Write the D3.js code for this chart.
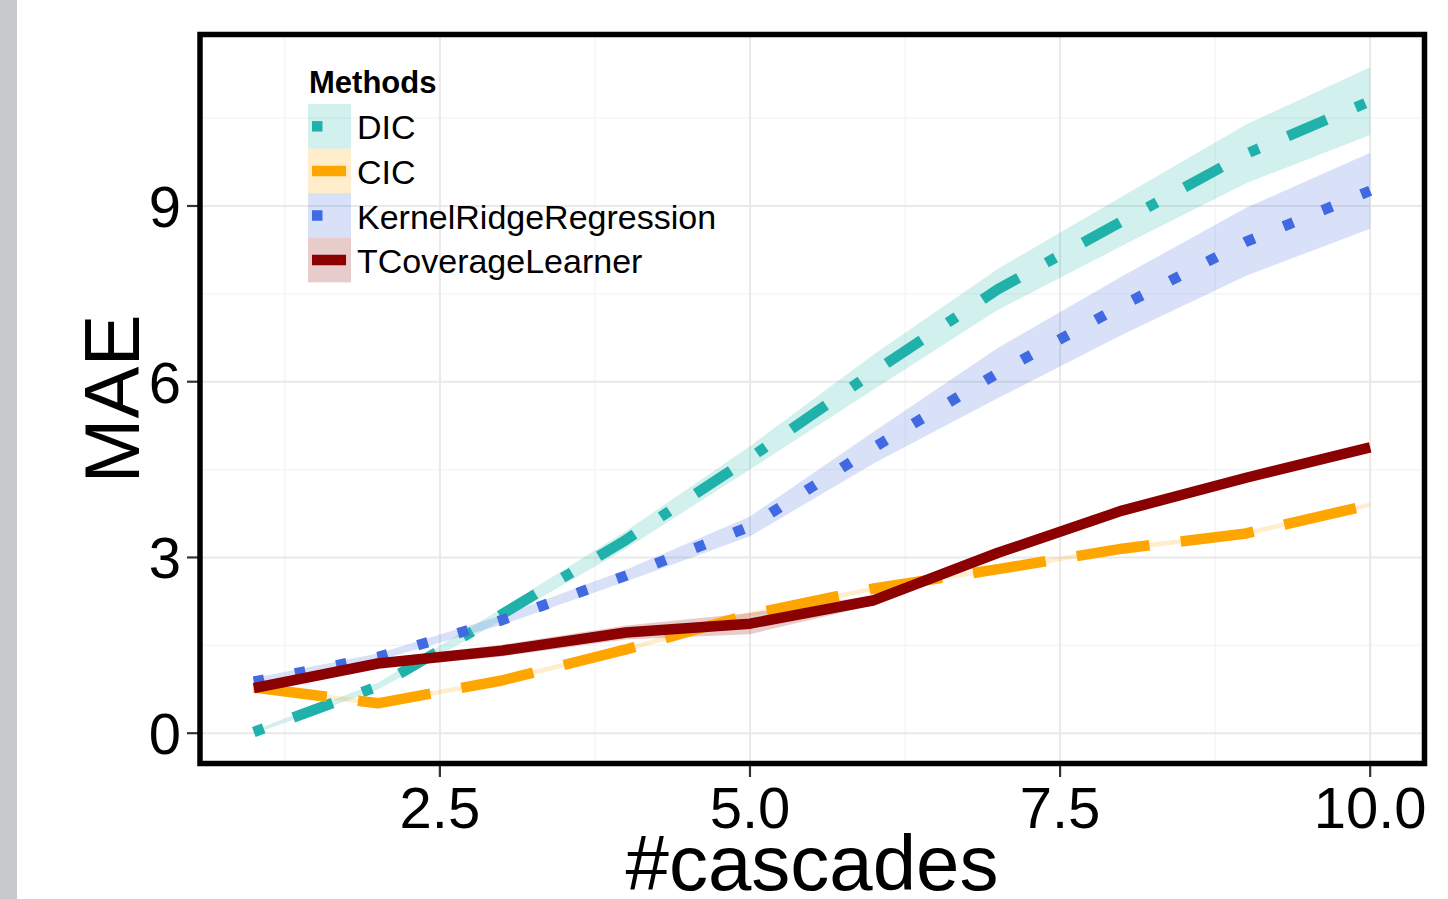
<!DOCTYPE html>
<html>
<head>
<meta charset="utf-8">
<script src="https://cdn.jsdelivr.net/npm/d3@7"></script>
<style>
  html, body { margin: 0; padding: 0; background: #fff; }
  svg { display: block; font-family: "Liberation Sans", Arial, Helvetica, sans-serif; }
</style>
</head>
<body>
<svg id="chart" width="1448" height="899"></svg>
<script>
// ---- data ----
const cascades = [1, 2, 3, 4, 5, 6, 7, 8, 9, 10];
const methods = ["DIC", "CIC", "KernelRidgeRegression", "TCoverageLearner"];
const dicMean = [0.02, 0.8, 2.03, 3.3, 4.7, 6.17, 7.58, 8.74, 9.89, 10.79];
const dicSd   = [0.03, 0.06, 0.1, 0.15, 0.2, 0.3, 0.35, 0.42, 0.5, 0.58];
const cicMean = [0.78, 0.51, 0.9, 1.43, 2.03, 2.47, 2.8, 3.15, 3.41, 3.9];
const cicSd   = [0.04, 0.04, 0.04, 0.04, 0.04, 0.04, 0.04, 0.04, 0.04, 0.04];
const krrMean = [0.88, 1.3, 1.93, 2.69, 3.53, 4.88, 6.15, 7.3, 8.39, 9.26];
const krrSd   = [0.06, 0.06, 0.08, 0.1, 0.17, 0.27, 0.43, 0.5, 0.58, 0.65];
const tclMean = [0.77, 1.19, 1.41, 1.72, 1.87, 2.27, 3.08, 3.8, 4.36, 4.88];
const tclSd   = [0.08, 0.08, 0.1, 0.12, 0.18, 0.08, 0.04, 0.04, 0.04, 0.04];
const xTicks = [2.5, 5.0, 7.5, 10.0];
const xMinor = [1.25, 3.75, 6.25, 8.75];
const yTicks = [0, 3, 6, 9];
const yMinor = [1.5, 4.5, 7.5, 10.5];
const lineColors = ["#20B2AA", "#FFA500", "#4169E1", "#8B0000"];

const lw = 10.5;
const dashes = [
  [1, 3, 4, 3].map(d => d * lw).join(","),
  [7, 3].map(d => d * lw).join(","),
  [1, 3].map(d => d * lw).join(","),
  null
];

const series = [
  { name: methods[0], mean: dicMean, sd: dicSd },
  { name: methods[1], mean: cicMean, sd: cicSd },
  { name: methods[2], mean: krrMean, sd: krrSd },
  { name: methods[3], mean: tclMean, sd: tclSd }
];

// ---- layout ----
const svg = d3.select("#chart");
const panel = { left: 198, right: 1426, top: 32, bottom: 766 };

const xScale = d3.scaleLinear().domain([0.55, 10.45]).range([panel.left, panel.right]);
const yScale = d3.scaleLinear().domain([-0.56, 11.97]).range([panel.bottom, panel.top]);

// gray strip at left
svg.append("rect").attr("x", 0).attr("y", 0).attr("width", 17).attr("height", 899).attr("fill", "#c8c9cb");

// grid
const g = svg.append("g");
g.selectAll(".vminor").data(xMinor).join("line")
  .attr("x1", d => xScale(d)).attr("x2", d => xScale(d))
  .attr("y1", panel.top).attr("y2", panel.bottom)
  .attr("stroke", "#f4f4f4").attr("stroke-width", 1.2);
g.selectAll(".hminor").data(yMinor).join("line")
  .attr("y1", d => yScale(d)).attr("y2", d => yScale(d))
  .attr("x1", panel.left).attr("x2", panel.right)
  .attr("stroke", "#f4f4f4").attr("stroke-width", 1.2);
g.selectAll(".vmajor").data(xTicks).join("line")
  .attr("x1", d => xScale(d)).attr("x2", d => xScale(d))
  .attr("y1", panel.top).attr("y2", panel.bottom)
  .attr("stroke", "#e9e9e9").attr("stroke-width", 2);
g.selectAll(".hmajor").data(yTicks).join("line")
  .attr("y1", d => yScale(d)).attr("y2", d => yScale(d))
  .attr("x1", panel.left).attr("x2", panel.right)
  .attr("stroke", "#e9e9e9").attr("stroke-width", 2);

// ribbons
const area = d3.area()
  .x((d, i) => xScale(cascades[i]))
  .y0(d => yScale(d[0] - d[1]))
  .y1(d => yScale(d[0] + d[1]));
series.forEach((s, k) => {
  const pts = s.mean.map((m, i) => [m, s.sd[i]]);
  svg.append("path").attr("d", area(pts))
    .attr("fill", lineColors[k]).attr("fill-opacity", 0.2).attr("stroke", "none");
});

// lines
const line = d3.line().x((d, i) => xScale(cascades[i])).y(d => yScale(d));
series.forEach((s, k) => {
  const p = svg.append("path").attr("d", line(s.mean))
    .attr("fill", "none").attr("stroke", lineColors[k])
    .attr("stroke-width", lw).attr("stroke-linecap", "butt").attr("stroke-linejoin", "round");
  if (dashes[k]) p.attr("stroke-dasharray", dashes[k]);
});

// axes ticks
const tickCol = "#333333";
svg.selectAll(".yt").data(yTicks).join("line")
  .attr("x1", 187).attr("x2", 198)
  .attr("y1", d => yScale(d)).attr("y2", d => yScale(d))
  .attr("stroke", tickCol).attr("stroke-width", 2.2);
svg.selectAll(".xt").data(xTicks).join("line")
  .attr("y1", 766).attr("y2", 777)
  .attr("x1", d => xScale(d)).attr("x2", d => xScale(d))
  .attr("stroke", tickCol).attr("stroke-width", 2.2);

svg.selectAll(".ytl").data(yTicks).join("text")
  .attr("x", 181).attr("y", d => yScale(d) + 21)
  .attr("text-anchor", "end").attr("font-size", 58).attr("fill", "#000")
  .text(d => d3.format("d")(d));
svg.selectAll(".xtl").data(xTicks).join("text")
  .attr("x", d => xScale(d)).attr("y", 828)
  .attr("text-anchor", "middle").attr("font-size", 58).attr("fill", "#000")
  .text(d => d3.format(".1f")(d));

// axis titles
svg.append("text").attr("x", 812).attr("y", 890)
  .attr("text-anchor", "middle").attr("font-size", 78).attr("fill", "#000")
  .text("#cascades");
svg.append("text").attr("transform", "translate(139,399) rotate(-90)")
  .attr("text-anchor", "middle").attr("font-size", 78).attr("fill", "#000")
  .text("MAE");

// panel border
svg.append("rect").attr("x", 200).attr("y", 34.5).attr("width", 1224.5).attr("height", 729)
  .attr("fill", "none").attr("stroke", "#000").attr("stroke-width", 5.5);

// legend
const leg = svg.append("g");
leg.append("text").attr("x", 309).attr("y", 93)
  .attr("font-size", 31).attr("font-weight", "bold").attr("fill", "#000").text("Methods");
const rowH = 44.6, rowTop = 104;
methods.forEach((m, k) => {
  const cy = rowTop + rowH * k + rowH / 2;
  leg.append("rect").attr("x", 308).attr("y", rowTop + rowH * k).attr("width", 43).attr("height", rowH)
    .attr("fill", lineColors[k]).attr("fill-opacity", 0.2);
  const l = leg.append("line").attr("x1", 312).attr("x2", 346).attr("y1", cy).attr("y2", cy)
    .attr("stroke", lineColors[k]).attr("stroke-width", lw).attr("stroke-linecap", "butt");
  if (dashes[k]) l.attr("stroke-dasharray", dashes[k]);
  leg.append("text").attr("x", 357).attr("y", cy + 13)
    .attr("font-size", 34).attr("fill", "#000").text(m);
});
</script>
</body>
</html>
